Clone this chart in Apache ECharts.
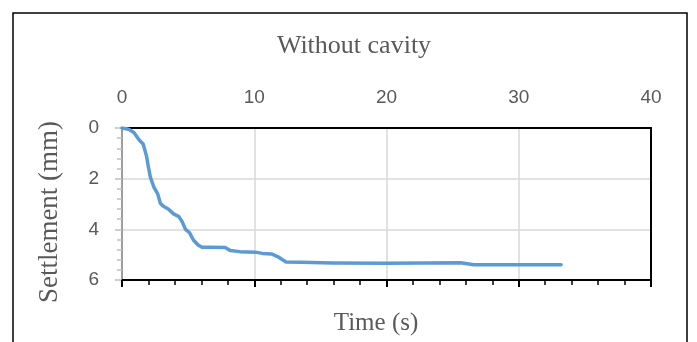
<!DOCTYPE html>
<html>
<head>
<meta charset="utf-8">
<script src="https://cdn.jsdelivr.net/npm/echarts@6/dist/echarts.min.js"></script>
<style>html,body{margin:0;padding:0;background:#fff;}#c{width:697px;height:342px;}</style>
</head>
<body>
<div id="c"></div>
<script>
var chartTitle = 'Without cavity';
var xName = 'Time (s)';
var yName = 'Settlement (mm)';
var timeS = [0, 0.5, 0.9, 1.3, 1.6, 1.85, 2.0, 2.15, 2.4, 2.7, 2.9, 3.1, 3.5, 3.9, 4.3, 4.55, 4.8, 5.1, 5.4, 5.75, 6.05, 6.7, 7.8, 8.2, 8.9, 10.1, 10.6, 11.3, 11.85, 12.4, 13.5, 16, 20, 25.6, 26.6, 28, 33.2];
var settlement = [0, 0.05, 0.18, 0.47, 0.63, 1.1, 1.55, 1.95, 2.32, 2.6, 2.97, 3.08, 3.2, 3.39, 3.5, 3.7, 4.0, 4.13, 4.42, 4.62, 4.71, 4.71, 4.72, 4.84, 4.88, 4.9, 4.95, 4.97, 5.1, 5.29, 5.3, 5.33, 5.34, 5.32, 5.4, 5.4, 5.4];
var xTicks = [0, 10, 20, 30, 40];
var yTicks = [0, 2, 4, 6];

var pts = timeS.map(function (t, i) { return [t, settlement[i]]; });
var chart = echarts.init(document.getElementById('c'));
var serif = '"Liberation Serif", "Times New Roman", serif';
var sans = '"Liberation Sans", Arial, sans-serif';
chart.setOption({
  animation: false,
  grid: { left: 122, right: 46, top: 128, bottom: 62 },
  xAxis: [{
    type: 'value', position: 'top', min: xTicks[0], max: xTicks[xTicks.length - 1], interval: 10,
    axisLine: { show: true, lineStyle: { color: '#000', width: 2 } },
    axisTick: { show: false },
    axisLabel: { color: '#595959', fontSize: 19, fontFamily: sans, margin: 21 },
    splitLine: { show: true, lineStyle: { color: '#d9d9d9', width: 1.5 } }
  }, {
    type: 'value', position: 'bottom', min: xTicks[0], max: xTicks[xTicks.length - 1], interval: 10,
    axisLine: { show: true, onZero: false, lineStyle: { color: '#000', width: 2 } },
    axisTick: { show: true, length: 7, lineStyle: { color: '#000', width: 2 } },
    minorTick: { show: true, splitNumber: 5, length: 5, lineStyle: { color: '#000', width: 1.5 } },
    axisLabel: { show: false },
    splitLine: { show: false }
  }],
  yAxis: [{
    type: 'value', inverse: true, min: yTicks[0], max: yTicks[yTicks.length - 1], interval: 2,
    axisLine: { show: true, onZero: false, lineStyle: { color: '#868686', width: 1.5 } },
    axisTick: { show: true, length: 7, lineStyle: { color: '#bfbfbf', width: 1.5 } },
    minorTick: { show: true, splitNumber: 5, length: 5, lineStyle: { color: '#bfbfbf', width: 1.5 } },
    axisLabel: { color: '#595959', fontSize: 19, fontFamily: sans, margin: 23 },
    splitLine: { show: true, lineStyle: { color: '#d9d9d9', width: 1.5 } }
  }, {
    type: 'value', position: 'right', inverse: true, min: 0, max: 6, interval: 2,
    axisLine: { show: true, onZero: false, lineStyle: { color: '#000', width: 2 } },
    axisTick: { show: false }, axisLabel: { show: false }, splitLine: { show: false }
  }],
  series: [{
    type: 'line', xAxisIndex: 0, yAxisIndex: 0, data: pts, showSymbol: false, symbol: 'none',
    lineStyle: { color: '#5b9bd5', width: 3.5, cap: 'round', join: 'round' }
  }],
  graphic: [
    { type: 'rect', shape: { x: 13, y: 13, width: 674, height: 340 }, style: { fill: 'none', stroke: '#000', lineWidth: 1.5 }, silent: true, z: -1 },
    { type: 'text', x: 354, y: 46, style: { text: chartTitle, font: '26px ' + serif, fill: '#595959', textAlign: 'center', textVerticalAlign: 'middle' } },
    { type: 'text', x: 376, y: 323, style: { text: xName, font: '25px ' + serif, fill: '#595959', textAlign: 'center', textVerticalAlign: 'middle' } },
    { type: 'text', x: 50, y: 212, rotation: Math.PI / 2, style: { text: yName, font: '27px ' + serif, fill: '#595959', textAlign: 'center', textVerticalAlign: 'middle' } }
  ]
});
</script>
</body>
</html>
